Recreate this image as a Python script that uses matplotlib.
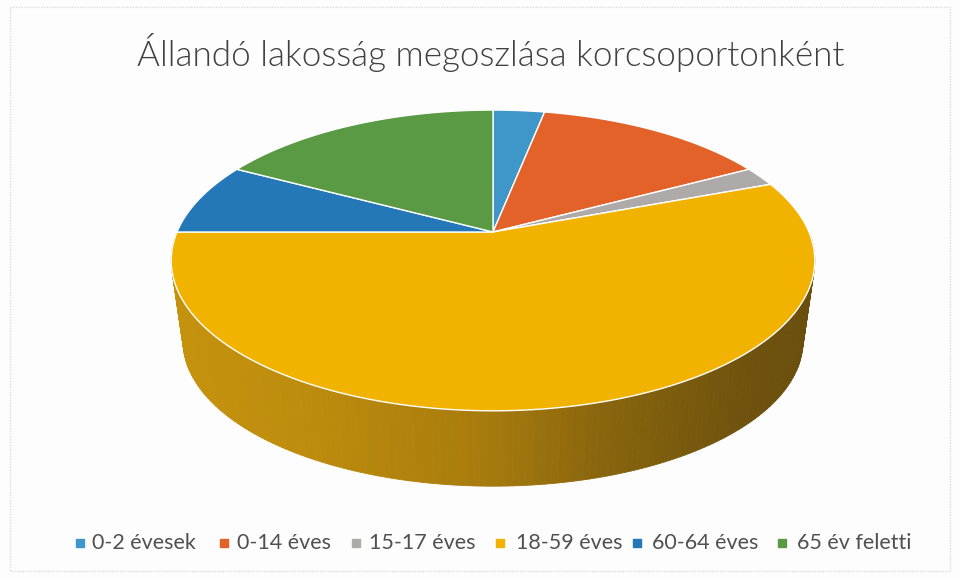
"""
Állandó lakosság megoszlása - 3D kördiagram (kézi vetítéssel).
"""
import numpy as np
import matplotlib
matplotlib.use('Agg')
import matplotlib.pyplot as plt
from matplotlib.patches import Polygon, Rectangle

# =========================
# DATA
# =========================
title = 'Állandó lakosság megoszlása korcsoportonként'
labels = ['0-2 évesek', '0-14 éves', '15-17 éves', '18-59 éves', '60-64 éves', '65 év feletti']
values = [3.1, 14.1, 2.1, 55.7, 7.8, 17.2]
colors = ['#3f97c9', '#e2622a', '#aeaaaa', '#f1b200', '#2478b8', '#5a9a44']

# =========================
# GEOMETRY (pixels)
# =========================
W, H = 959, 579
CX, CY = 493, 232
A, B, K = 316, 145, 0.189
S_BOTTOM, CY_BOTTOM = 0.963, 314
LEGEND_Y = 543
legend_marker_x = [80, 224, 356, 500, 637, 782]
legend_text_x = [92, 237, 369, 516, 652, 797]


def project(theta, scale=1.0, cy=CY):
    # theta: clockwise from 12 o'clock, radians
    x, y = np.sin(theta), np.cos(theta)
    w = 1 + K * y
    return CX + scale * A * x / w, cy - scale * B * y / w


def shade(px):
    # wall gets darker towards the right
    return np.interp(px, [170, 300, 490, 600, 750, 815], [0.82, 0.79, 0.69, 0.57, 0.46, 0.44])


fig = plt.figure(figsize=(W / 100, H / 100), dpi=100, facecolor='#fdfdfd')
ax = fig.add_axes([0, 0, 1, 1])
ax.set_xlim(0, W)
ax.set_ylim(H, 0)
ax.axis('off')

ax.add_patch(Rectangle((10, 7), 940, 564, fill=False, ec='#dcdcdc', lw=1, ls=(0, (1, 1))))

# =========================
# WEDGES
# =========================
edges = np.cumsum([0] + values) / sum(values) * 2 * np.pi

# walls (only the front half is visible)
for i, color in enumerate(colors):
    start, stop = max(edges[i], np.pi / 2), min(edges[i + 1], 3 * np.pi / 2)
    if stop <= start:
        continue
    base = np.array(matplotlib.colors.to_rgb(color))
    angles = np.linspace(start, stop, 181)
    for t0, t1 in zip(angles[:-1], angles[1:]):
        x0, y0 = project(t0)
        x1, y1 = project(t1)
        x2, y2 = project(t1, S_BOTTOM, CY_BOTTOM)
        x3, y3 = project(t0, S_BOTTOM, CY_BOTTOM)
        c = np.clip(base * shade((x0 + x1) / 2) + [0, 0, 0.05], 0, 1)
        ax.add_patch(Polygon([(x0, y0), (x1, y1), (x2, y2), (x3, y3)], fc=c, ec=c, lw=0.6))

# top faces
for i, color in enumerate(colors):
    angles = np.linspace(edges[i], edges[i + 1], 200)
    px, py = project(angles)
    pts = np.column_stack([np.r_[CX, px], np.r_[CY, py]])
    ax.add_patch(Polygon(pts, closed=True, fc=color, ec='white', lw=1.0, joinstyle='round'))

# =========================
# TEXT
# =========================
ax.text(491, 53, title, ha='center', va='center', fontsize=25.2, family='Lato', fontweight=300,
        color='#404040')

for label, color, mx, tx in zip(labels, colors, legend_marker_x, legend_text_x):
    ax.plot(mx, LEGEND_Y, ls='', marker='s', ms=5.5, color=color)
    ax.text(tx, LEGEND_Y, label, ha='left', va='center', fontsize=15.5, family='Lato', color='#505050')

fig.savefig('out.png', dpi=100, facecolor=fig.get_facecolor())
